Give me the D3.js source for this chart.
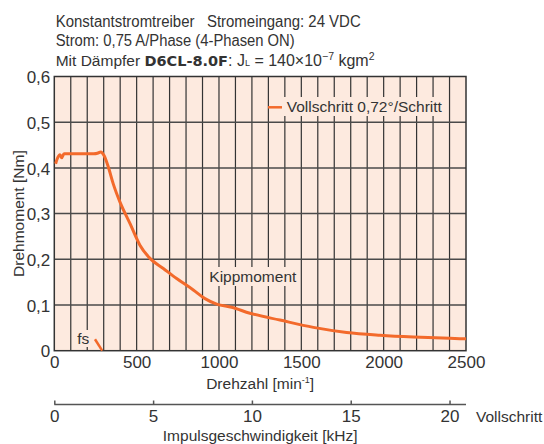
<!DOCTYPE html>
<html>
<head>
<meta charset="utf-8">
<script src="https://cdn.jsdelivr.net/npm/d3@7"></script>
<style>
  html, body { margin: 0; padding: 0; background: #fff; }
  svg { display: block; }
  text { font-family: "Liberation Sans Narrow", "Arial Narrow", "Liberation Sans", sans-serif; fill: #333; }
</style>
</head>
<body>
<svg id="chart" width="544" height="444"></svg>
<script>
/* ── data ─────────────────────────────────────────── */

const titleLines = [
  "Konstantstromtreiber\u00a0\u00a0\u00a0Stromeingang: 24 VDC",
  "Strom: 0,75 A/Phase (4-Phasen ON)"
];
const titleWidths = [305, 239];

// rpm, Nm
const kippRpm = [8, 18, 35, 45, 59, 100, 160, 200, 240, 262, 282, 302, 328, 358, 399, 460,
                 520, 581, 662, 743, 844, 915, 986, 1077, 1188, 1370, 1573, 1775, 1978, 2180, 2402, 2500];
const kippNm  = [0.409, 0.420, 0.429, 0.422, 0.431, 0.431, 0.431, 0.431, 0.431, 0.432, 0.435, 0.427, 0.402, 0.365, 0.325, 0.278,
                 0.231, 0.202, 0.180, 0.158, 0.133, 0.114, 0.102, 0.095, 0.082, 0.067, 0.051, 0.040, 0.034, 0.030, 0.027, 0.026];

// start frequency marker
const fsRpm = [247, 291];
const fsNm  = [0.025, 0.0];

const rpmTicks = [0, 500, 1000, 1500, 2000, 2500];
const nmTicks  = [0, 0.1, 0.2, 0.3, 0.4, 0.5, 0.6];
const khzTicks = [0, 5, 10, 15, 20];

const RPM_MAX = 2500;
const STEPS_PER_REV = 500;   // 0.72°/Schritt
const KHZ_MAX = RPM_MAX / 60 * STEPS_PER_REV / 1000;

/* ── layout ───────────────────────────────────────── */

const ORANGE = "#f36a2b";
const PEACH  = "#fdeadf";
const FS = 15.5;     // labels
const FT = 16;       // title
const FN = 17;       // tick numbers

const plot = { l: 54.3, r: 466, t: 76.5, b: 350.7 };

const svg = d3.select("#chart");

const x = d3.scaleLinear().domain([0, RPM_MAX]).range([plot.l, plot.r]);
const y = d3.scaleLinear().domain([0, 0.6]).range([plot.b, plot.t]);
const xk = d3.scaleLinear().domain([0, KHZ_MAX]).range([plot.l, plot.r]);

const deLocale = d3.formatLocale({ decimal: ",", thousands: ".", grouping: [3], currency: ["", "€"] });
const fmtNm = v => v === 0 ? "0" : deLocale.format(".1f")(v);

/* ── title ────────────────────────────────────────── */

const title = svg.append("g").attr("font-size", FT);
titleLines.forEach((t, i) => {
  title.append("text").attr("x", 55.7).attr("y", 26.7 + i * 19.5)
    .attr("textLength", titleWidths[i]).attr("lengthAdjust", "spacingAndGlyphs")
    .text(t);
});
const l3 = title.append("text").attr("x", 55.7).attr("y", 65.7);
l3.append("tspan").attr("font-size", 15.5).text("Mit Dämpfer\u00a0");
l3.append("tspan").attr("font-family", "DejaVu Sans, sans-serif")
  .attr("font-weight", "bold").attr("font-size", 14.5).text("D6CL-8.0F");
l3.append("tspan").text(": J");
l3.append("tspan").attr("font-size", 9).text("L");
l3.append("tspan").text(" = 140\u00d710");
l3.append("tspan").attr("font-size", 10.5).attr("dy", -6).text("\u22127");
l3.append("tspan").attr("dy", 6).text(" kgm");
l3.append("tspan").attr("font-size", 10.5).attr("dy", -6).text("2");

/* ── plot area + grid ─────────────────────────────── */

svg.append("rect")
  .attr("x", plot.l).attr("y", plot.t)
  .attr("width", plot.r - plot.l).attr("height", plot.b - plot.t)
  .attr("fill", PEACH);

svg.append("g")
  .selectAll("line")
  .data(d3.range(100, RPM_MAX, 100))
  .join("line")
  .attr("x1", d => x(d)).attr("x2", d => x(d))
  .attr("y1", plot.t).attr("y2", plot.b)
  .attr("stroke", "#333").attr("stroke-width", 1.2);

svg.append("g")
  .selectAll("line")
  .data(nmTicks.slice(1, -1))
  .join("line")
  .attr("x1", plot.l).attr("x2", plot.r)
  .attr("y1", d => y(d)).attr("y2", d => y(d))
  .attr("stroke", "#4a4a4a").attr("stroke-width", 1.5);

svg.append("rect")
  .attr("x", plot.l).attr("y", plot.t)
  .attr("width", plot.r - plot.l).attr("height", plot.b - plot.t)
  .attr("fill", "none").attr("stroke", "#333").attr("stroke-width", 1.5);

/* ── curves ───────────────────────────────────────── */

const line = d3.line()
  .x(d => x(d[0]))
  .y(d => y(d[1]))
  .curve(d3.curveMonotoneX);

svg.append("path")
  .datum(d3.zip(kippRpm, kippNm))
  .attr("d", line)
  .attr("fill", "none")
  .attr("stroke", ORANGE)
  .attr("stroke-width", 3)
  .attr("stroke-linejoin", "round");

svg.append("path")
  .datum(d3.zip(fsRpm, fsNm))
  .attr("d", d3.line().x(d => x(d[0])).y(d => y(d[1])))
  .attr("stroke", ORANGE)
  .attr("stroke-width", 2.5);

/* ── labels with background boxes ─────────────────── */

function boxLabel(tx, ty, txt, pad) {
  const t = svg.append("text").attr("x", tx).attr("y", ty).attr("font-size", FS).text(txt);
  const bb = t.node().getBBox();
  svg.insert("rect", () => t.node())
    .attr("x", bb.x - pad[0]).attr("y", bb.y - pad[1])
    .attr("width", bb.width + 2 * pad[0]).attr("height", bb.height + 2 * pad[1])
    .attr("fill", PEACH);
  return t;
}

boxLabel(286.7, 112, "Vollschritt 0,72°/Schritt", [3.5, 1]);
svg.append("line")
  .attr("x1", 268).attr("x2", 282).attr("y1", 107.3).attr("y2", 107.3)
  .attr("stroke", ORANGE).attr("stroke-width", 2.5);

boxLabel(209.3, 282, "Kippmoment", [3, 1]);
boxLabel(77.3, 344, "fs", [2, 0]);

/* ── axes ─────────────────────────────────────────── */

const xAxis = svg.append("g")
  .attr("transform", `translate(0,${plot.b})`)
  .call(d3.axisBottom(x).tickValues(rpmTicks).tickFormat(d3.format("d")).tickSize(0).tickPadding(17.5));
xAxis.select(".domain").remove();
xAxis.selectAll("text").attr("font-size", FN).attr("fill", "#333").attr("dy", 0);

const yAxis = svg.append("g")
  .attr("transform", `translate(${plot.l},0)`)
  .call(d3.axisLeft(y).tickValues(nmTicks).tickFormat(fmtNm).tickSize(0).tickPadding(4));
yAxis.select(".domain").remove();
yAxis.selectAll("text").attr("font-size", FN).attr("fill", "#333").attr("dy", "0.36em");

const xt = svg.append("text")
  .attr("x", (plot.l + plot.r) / 2).attr("y", 389)
  .attr("text-anchor", "middle").attr("font-size", FS);
xt.append("tspan").text("Drehzahl [min");
xt.append("tspan").attr("font-size", 9).attr("dy", -6).text("-1");
xt.append("tspan").attr("dy", 6).text("]");

svg.append("text")
  .attr("transform", `translate(24,${(plot.t + plot.b) / 2}) rotate(-90)`)
  .attr("text-anchor", "middle").attr("font-size", FS)
  .text("Drehmoment [Nm]");

/* second axis: pulse rate */
const kAxis = svg.append("g")
  .attr("transform", "translate(0,404.5)")
  .call(d3.axisTop(xk).tickValues(khzTicks).tickSize(4).tickSizeOuter(0));
kAxis.select(".domain").attr("stroke", "#555").attr("stroke-width", 1.5)
  .attr("d", `M${plot.l},0H${plot.r}`);
kAxis.selectAll("line").attr("stroke", "#555").attr("stroke-width", 1.5);
kAxis.selectAll("text")
  .attr("font-size", FN).attr("fill", "#333")
  .attr("y", 17.8).attr("dy", 0);

svg.append("text").attr("x", 476).attr("y", 422.3).attr("font-size", FS).text("Vollschritt");

svg.append("text")
  .attr("x", (plot.l + plot.r) / 2).attr("y", 440.7)
  .attr("text-anchor", "middle").attr("font-size", FS)
  .text("Impulsgeschwindigkeit [kHz]");
</script>
</body>
</html>
